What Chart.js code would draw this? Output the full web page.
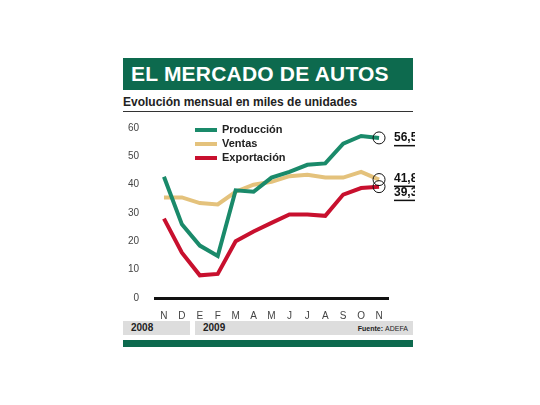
<!DOCTYPE html>
<html><head><meta charset="utf-8">
<script src="https://cdn.jsdelivr.net/npm/chart.js@4"></script>
<style>
body{margin:0;background:#fff;width:540px;height:405px;position:relative;font-family:"Liberation Sans",Arial,sans-serif}
.abs{position:absolute}
#head{left:123px;top:58px;width:290px;height:32px;background:#0d6a4e;color:#fff;font:bold 21px "Liberation Sans Narrow","Liberation Sans",sans-serif;line-height:32px;padding-left:8px;box-sizing:border-box;letter-spacing:0.2px}
#sub{left:123px;top:95px;width:290px;border-bottom:1px solid #333;font:bold 12px "Liberation Sans Narrow","Liberation Sans",sans-serif;padding-bottom:2px;color:#222}
.yr{top:321px;height:14px;background:#ddd;font:bold 10px "Liberation Sans",sans-serif;line-height:14px;color:#222;padding-left:8px;box-sizing:border-box}
#leg{left:195px;top:122px;font:bold 11px "Liberation Sans Narrow","Liberation Sans",sans-serif;color:#222;line-height:14px}
#leg span{display:inline-block;width:22px;height:4px;vertical-align:middle;margin-right:5px}
</style></head><body>
<div id="head" class="abs">EL MERCADO DE AUTOS</div>
<div id="sub" class="abs">Evolución mensual en miles de unidades</div>
<div class="abs" style="left:120px;top:114px;width:295px;height:212px"><canvas id="c"></canvas></div>
<div id="leg" class="abs">
<div><span style="background:#1a8a6a"></span>Producción</div>
<div><span style="background:#e4c27c"></span>Ventas</div>
<div><span style="background:#c8102e"></span>Exportación</div>
</div>
<div class="abs yr" style="left:123px;width:67px">2008</div>
<div class="abs yr" style="left:195px;width:218px">2009<span style="position:absolute;right:5px;top:1px;font-size:7px">Fuente: <span style="font-weight:normal">ADEFA</span></span></div>
<div class="abs" style="left:123px;top:340px;width:290px;height:7px;background:#0d6a4e"></div>
<script>
var months = ['N','D','E','F','M','A','M','J','J','A','S','O','N'];
var produccion = [42.8,26,18.5,14.8,38,37.5,42.5,44.5,47,47.5,54.5,57.2,56.5];
var ventas = [35.5,35.5,33.5,33,37.5,40,41,43,43.5,42.5,42.5,44.5,41.8];
var exportacion = [28,16,8,8.5,20,23.5,26.5,29.5,29.5,29,36.5,38.8,39.3];
var endLabels = ['56,5','41,8','39,3'];
var endOffsets = [0,-1,6];

// circles and final values at the end of each line
var endPlugin = {
  id: 'ends',
  afterDatasetsDraw: function(chart) {
    var ctx = chart.ctx;
    chart.data.datasets.forEach(function(ds, i) {
      var pt = chart.getDatasetMeta(i).data[ds.data.length - 1];
      ctx.save();
      ctx.strokeStyle = '#111'; ctx.lineWidth = 1;
      ctx.beginPath(); ctx.arc(pt.x, pt.y, 6, 0, Math.PI * 2); ctx.stroke();
      var ty = pt.y + endOffsets[i];
      ctx.font = 'bold 12px "Liberation Sans Narrow","Liberation Sans",sans-serif';
      ctx.fillStyle = '#111'; ctx.textBaseline = 'middle';
      var tx = chart.chartArea.right + 6;
      ctx.fillText(endLabels[i], tx, ty);
      var w = ctx.measureText(endLabels[i]).width;
      ctx.fillRect(tx, ty + 7, w, 1.5);
      ctx.restore();
    });
  }
};

new Chart(document.getElementById('c'), {
  type: 'line',
  data: {
    labels: months,
    datasets: [
      {data: produccion, borderColor: '#1a8a6a'},
      {data: ventas, borderColor: '#e4c27c'},
      {data: exportacion, borderColor: '#c8102e'}
    ]
  },
  options: {
    responsive: true, maintainAspectRatio: false, animation: false,
    elements: {line: {borderWidth: 4, tension: 0}, point: {radius: 0}},
    layout: {padding: {top: 2, right: 27}},
    plugins: {legend: {display: false}, tooltip: {enabled: false}},
    scales: {
      x: {offset: true, grid: {display: false},
          border: {color: '#111', width: 3},
          ticks: {color: '#444', font: {size: 10}, padding: 4}},
      y: {min: 0, max: 60, grid: {display: false}, border: {display: false},
          afterFit: function(s) { s.width = 35; },
          ticks: {stepSize: 10, color: '#444', font: {size: 10}, padding: 8}}
    }
  },
  plugins: [endPlugin]
});
</script>
</body></html>
